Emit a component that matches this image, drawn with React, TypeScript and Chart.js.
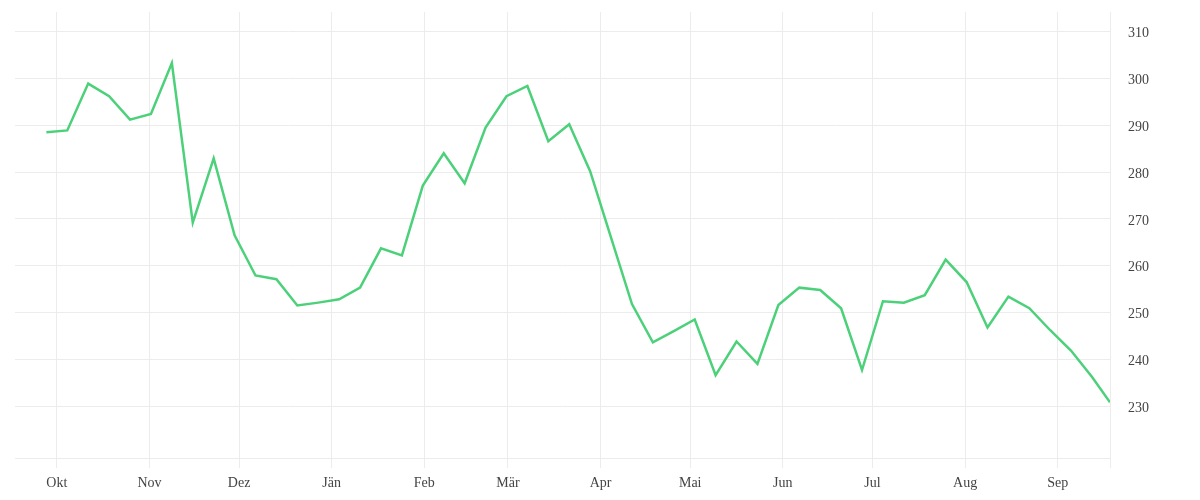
import { useEffect, useRef } from "react";
import Chart from "chart.js/auto";

// weekly closing values, Sep 2022 – Sep 2023
const dates = [
  "2022-09-27", "2022-10-04", "2022-10-11", "2022-10-18", "2022-10-25",
  "2022-11-01", "2022-11-08", "2022-11-15", "2022-11-22", "2022-11-29",
  "2022-12-06", "2022-12-13", "2022-12-20", "2022-12-27",
  "2023-01-03", "2023-01-10", "2023-01-17", "2023-01-24", "2023-01-31",
  "2023-02-07", "2023-02-14", "2023-02-21", "2023-02-28",
  "2023-03-07", "2023-03-14", "2023-03-21", "2023-03-28",
  "2023-04-04", "2023-04-11", "2023-04-18", "2023-04-25",
  "2023-05-02", "2023-05-09", "2023-05-16", "2023-05-23", "2023-05-30",
  "2023-06-06", "2023-06-13", "2023-06-20", "2023-06-27",
  "2023-07-04", "2023-07-11", "2023-07-18", "2023-07-25",
  "2023-08-01", "2023-08-08", "2023-08-15", "2023-08-22", "2023-08-29",
  "2023-09-05", "2023-09-12", "2023-09-18",
];

const values = [
  288.5, 288.9, 298.9, 296.2, 291.2,
  292.4, 303.3, 269.2, 282.9, 266.5,
  257.9, 257.1, 251.5, 252.1,
  252.8, 255.3, 263.7, 262.2, 277.1,
  284.0, 277.6, 289.5, 296.2,
  298.4, 286.6, 290.2, 280.2,
  266.0, 251.8, 243.6, 246.0,
  248.5, 236.6, 243.8, 239.0, 251.6,
  255.3, 254.8, 250.9, 237.7,
  252.4, 252.1, 253.7, 261.3,
  256.5, 246.8, 253.4, 250.9, 246.2,
  241.8, 236.2, 230.8,
];

const monthStarts = [
  "2022-10-01", "2022-11-01", "2022-12-01", "2023-01-01", "2023-02-01", "2023-03-01",
  "2023-04-01", "2023-05-01", "2023-06-01", "2023-07-01", "2023-08-01", "2023-09-01",
];
const monthLabels = ["Okt", "Nov", "Dez", "Jän", "Feb", "Mär", "Apr", "Mai", "Jun", "Jul", "Aug", "Sep"];

const yTicks = [230, 240, 250, 260, 270, 280, 290, 300, 310];
const yMin = 218.9;
const yMax = 314.2;
const rangeStart = "2022-09-17";
const rangeEnd = "2023-09-18";

const GRID = "#ececec";
const TEXT = "#444444";
const FONT = { family: "'Liberation Serif', serif", size: 14 };

const dayIndex = (d: string) => {
  const [y, m, dd] = d.split("-").map(Number);
  return (Date.UTC(y, m - 1, dd) - Date.UTC(2022, 9, 1)) / 86400000;
};

export default function App() {
  const canvasRef = useRef<HTMLCanvasElement | null>(null);

  useEffect(() => {
    if (!canvasRef.current) return;
    const xMin = dayIndex(rangeStart) - 0.5;
    const xMax = dayIndex(rangeEnd);
    const tickPos = monthStarts.map((d) => dayIndex(d) - 0.5);

    const chart = new Chart(canvasRef.current, {
      type: "line",
      data: {
        datasets: [
          {
            data: dates.map((d, i) => ({ x: dayIndex(d), y: values[i] })),
            borderColor: "#4cd17a",
            borderWidth: 2.5,
            pointRadius: 0,
            tension: 0,
            fill: false,
          },
        ],
      },
      options: {
        animation: false,
        responsive: true,
        maintainAspectRatio: false,
        layout: { padding: { left: 15, top: 12, right: 0, bottom: 0 } },
        plugins: { legend: { display: false }, tooltip: { enabled: false } },
        scales: {
          x: {
            type: "linear",
            min: xMin,
            max: xMax,
            afterBuildTicks: (s: any) => {
              s.ticks = [...tickPos, xMax].map((v) => ({ value: v }));
            },
            afterFit: (s: any) => {
              s.height = 42;
              s.paddingLeft = 0;
              s.paddingRight = 0;
            },
            ticks: {
              autoSkip: false,
              maxRotation: 0,
              padding: 7,
              color: TEXT,
              font: FONT,
              callback: (_v: any, i: number) => monthLabels[i] ?? "",
            },
            grid: { color: GRID, tickLength: 10, drawTicks: true },
            border: { display: true, color: GRID },
          },
          y: {
            position: "right",
            min: yMin,
            max: yMax,
            afterBuildTicks: (s: any) => {
              s.ticks = yTicks.map((v) => ({ value: v }));
            },
            afterFit: (s: any) => {
              s.width = 90;
              s.paddingTop = 0;
              s.paddingBottom = 0;
            },
            ticks: { padding: 18, labelOffset: 2, color: TEXT, font: FONT },
            grid: { color: GRID, drawTicks: false },
            border: { display: false },
          },
        },
      },
    });

    return () => chart.destroy();
  }, []);

  return (
    <div style={{ position: "fixed", left: 0, top: 0, width: 1200, height: 500, background: "#fff" }}>
      <canvas ref={canvasRef} />
    </div>
  );
}
